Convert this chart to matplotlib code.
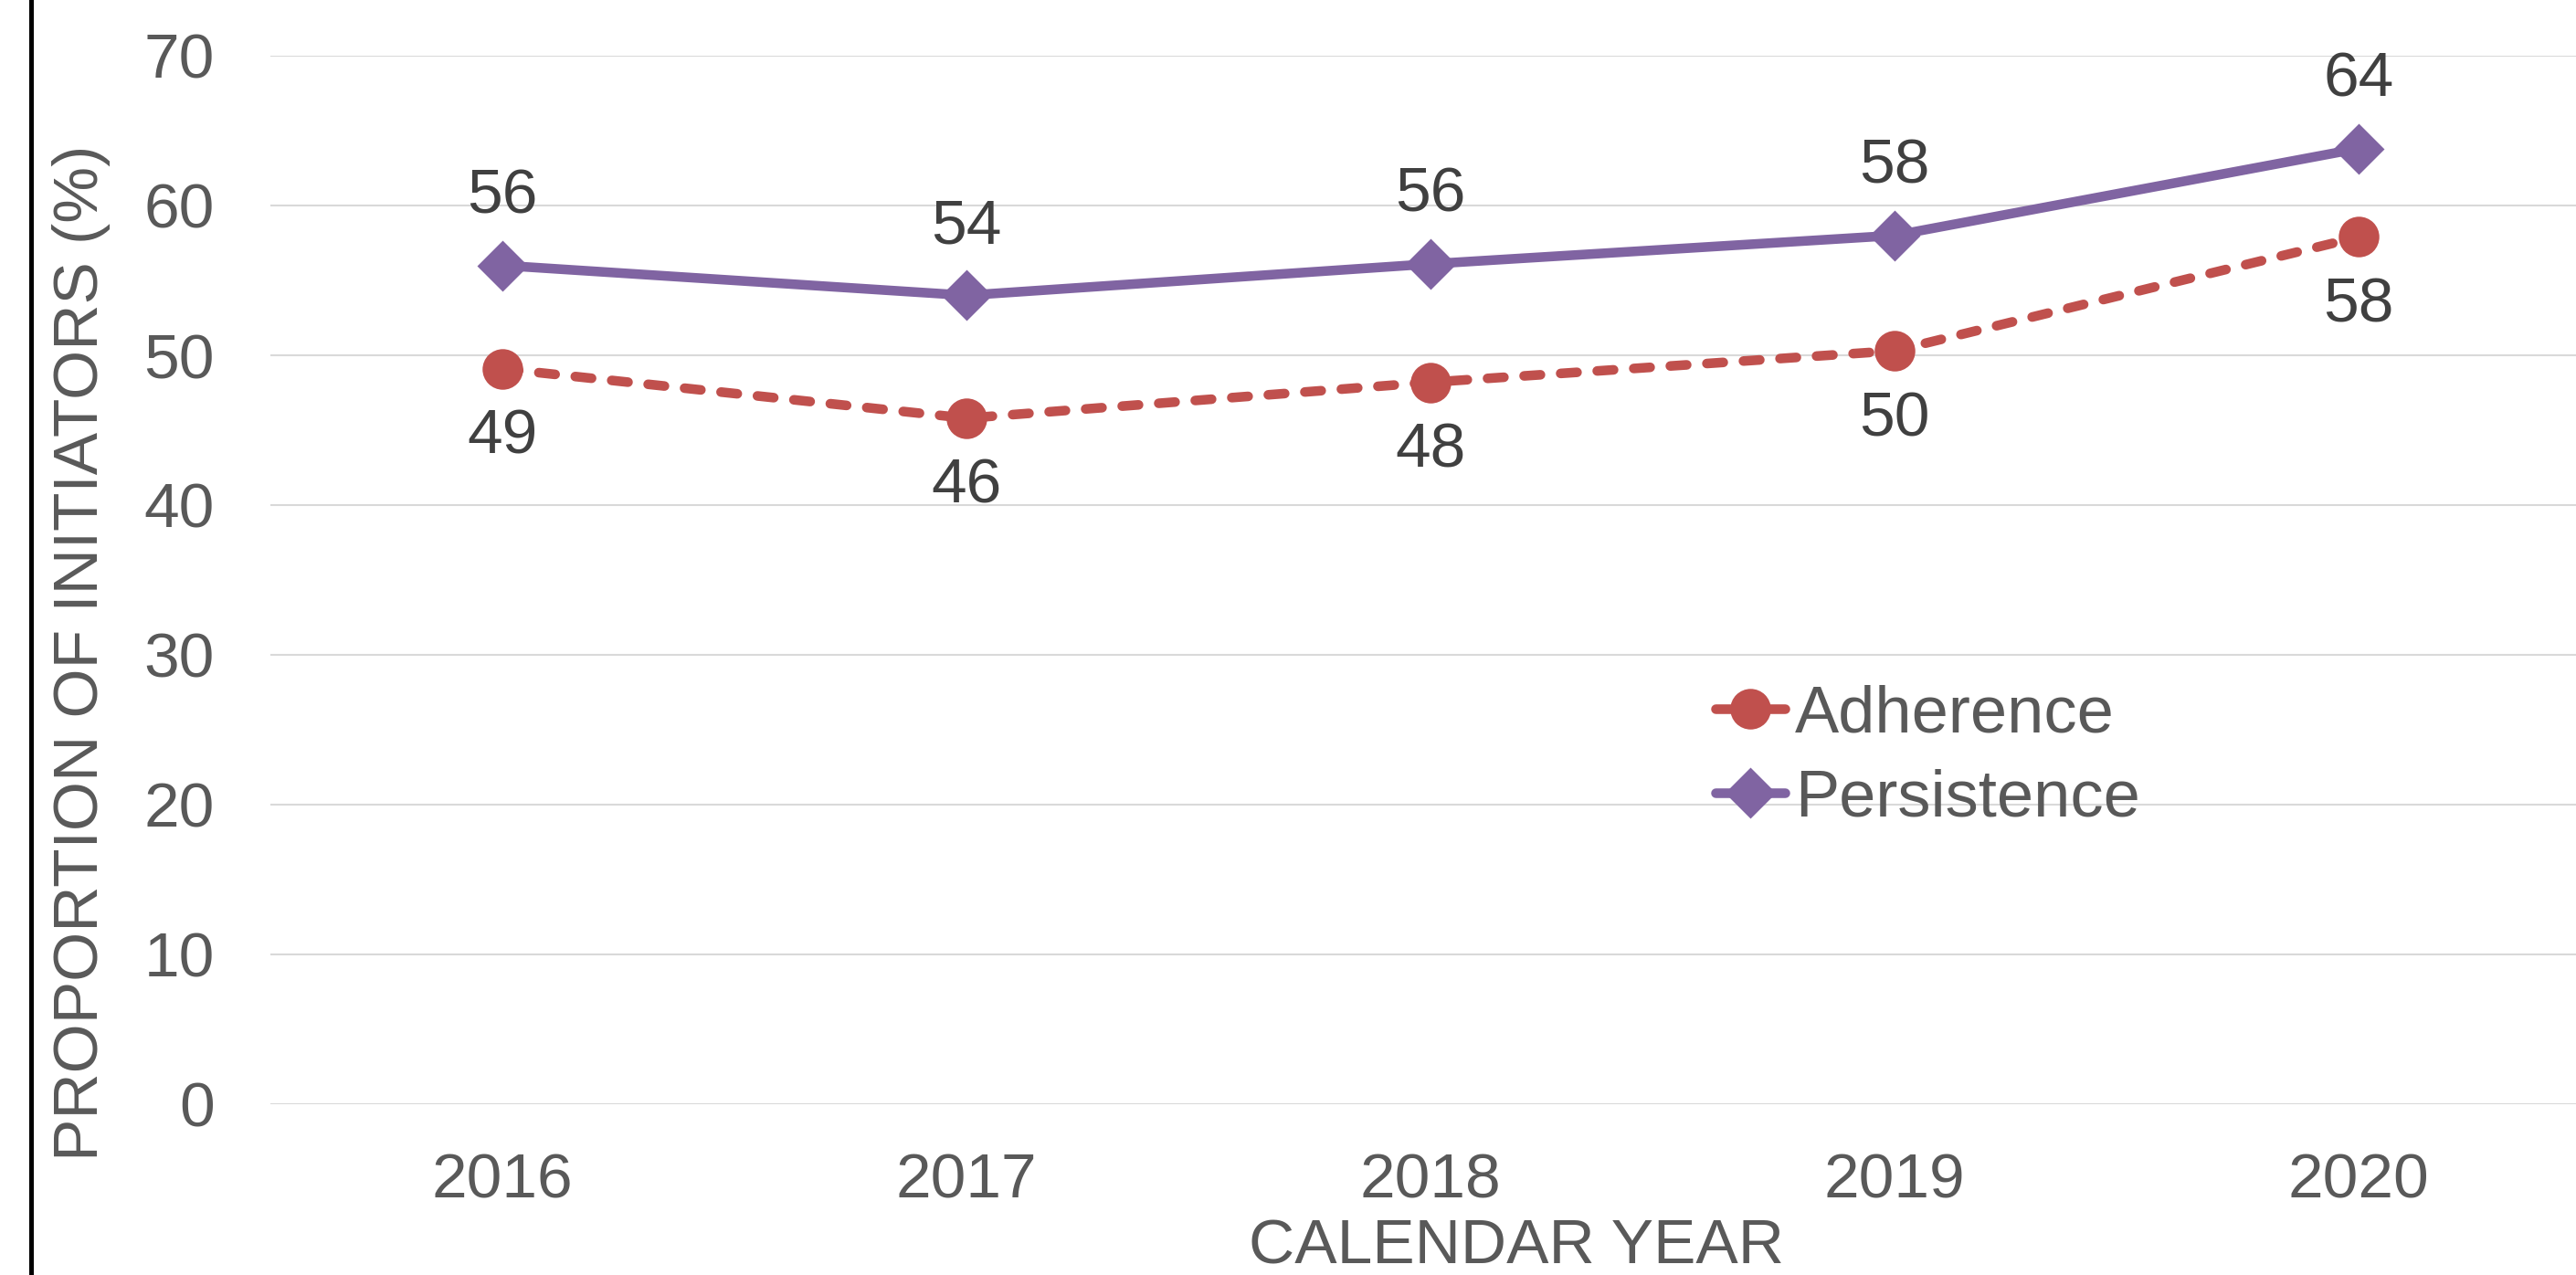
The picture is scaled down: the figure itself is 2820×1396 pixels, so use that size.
import matplotlib
matplotlib.use("Agg")
import matplotlib.pyplot as plt
from matplotlib.lines import Line2D

years = ["2016", "2017", "2018", "2019", "2020"]
adherence = [49.1, 45.8, 48.2, 50.3, 57.9]
persistence = [56.0, 54.0, 56.1, 58.0, 63.8]
y_ticks = [0, 10, 20, 30, 40, 50, 60, 70]

plt.rcParams['font.family'] = ['Liberation Sans', 'DejaVu Sans']

W, H, DPI = 2820, 1396, 200
fig = plt.figure(figsize=(W / DPI, H / DPI), dpi=DPI)
ax = fig.add_axes([296 / W, 1 - 1209 / H, 2540 / W, (1209 - 61) / H])

red = '#C0504D'
purple = '#8064A2'
tick_col = '#595959'
lab_col = '#404040'

x = list(range(len(years)))
ax.plot(x, adherence, color=red, lw=3.8, ls=(0, (1.7, 2.1)), dash_capstyle='round',
        marker='o', ms=15, clip_on=False, zorder=3)
ax.plot(x, persistence, color=purple, lw=3.8, marker='D', ms=13.3,
        clip_on=False, zorder=3)

for xi, v in zip(x, persistence):
    ax.annotate(f'{v:.0f}', xy=(xi, v), xytext=(0, 27), textcoords='offset points',
                ha='center', va='center', fontsize=25, color=lab_col)
for xi, v in zip(x, adherence):
    ax.annotate(f'{v:.0f}', xy=(xi, v), xytext=(0, -27), textcoords='offset points',
                ha='center', va='center', fontsize=25, color=lab_col)

ax.set_xlim(-0.5, 4.5)
ax.set_ylim(0, 70)
ax.set_yticks(y_ticks)
ax.set_xticks(x)
ax.set_xticklabels(years)
ax.tick_params(axis='both', length=0, labelsize=25, labelcolor=tick_col)
ax.tick_params(axis='y', pad=22)
ax.tick_params(axis='x', pad=19)
ax.grid(axis='y', color='#D9D9D9', lw=0.75)
ax.set_axisbelow(True)
for s in ax.spines.values():
    s.set_visible(False)

fig.text(1660 / W, 1 - 1365 / H, 'CALENDAR YEAR', ha='center', va='center',
         fontsize=25, color=tick_col)
fig.text(89 / W, 1 - 715 / H, 'PROPORTION OF INITIATORS (%)', rotation=90,
         ha='center', va='center', fontsize=25, color=tick_col)

handles = [
    Line2D([], [], color=red, lw=3.8, solid_capstyle='round', marker='o', ms=15),
    Line2D([], [], color=purple, lw=3.8, solid_capstyle='round', marker='D', ms=13.3),
]
ax.legend(handles, ['Adherence', 'Persistence'], loc='center left',
          bbox_to_anchor=(1878 / W, 1 - 829 / H),
          bbox_transform=fig.transFigure, frameon=False, fontsize=26,
          handlelength=1.05, handletextpad=0.15, labelspacing=0.35,
          borderpad=0, borderaxespad=0, labelcolor=tick_col)

# left border of the original panel
fig.add_artist(Line2D([34 / W, 34 / W], [0, 1], color='black', lw=1.8,
                      transform=fig.transFigure))

fig.savefig('out.png', dpi=DPI)
